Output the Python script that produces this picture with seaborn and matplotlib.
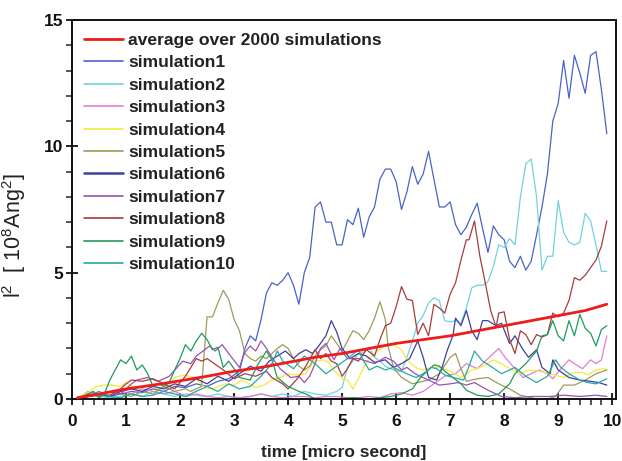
import numpy as np
import pandas as pd
import matplotlib
matplotlib.use("Agg")
import matplotlib.pyplot as plt
import seaborn as sns
from matplotlib.ticker import MultipleLocator

# ---------------- data ----------------
avg_t = [0.1, 0.5, 1, 1.5, 2, 2.5, 3, 3.5, 4, 4.5, 5, 5.5, 6, 6.5, 7, 7.5, 8, 8.5, 9, 9.5, 9.9]
avg_v = [0.05, 0.2, 0.4, 0.55, 0.72, 0.9, 1.1, 1.25, 1.45, 1.65, 1.8, 2.0, 2.2, 2.35, 2.5, 2.7, 2.9, 3.1, 3.3, 3.5, 3.75]

s1_t = [0.1, 0.3, 0.5, 0.7, 0.9, 1.1, 1.3, 1.5, 1.7, 1.9, 2.1, 2.3, 2.5, 2.7, 2.9, 3.1,
        3.2, 3.3, 3.4, 3.5, 3.6, 3.7, 3.8, 3.9, 4.0, 4.1, 4.2, 4.3, 4.4, 4.5, 4.6, 4.7, 4.8, 4.9,
        5.0, 5.1, 5.2, 5.3, 5.4, 5.5, 5.6, 5.7, 5.8, 5.9, 6.0, 6.1, 6.2, 6.3, 6.4, 6.5, 6.6, 6.7,
        6.8, 6.9, 7.0, 7.1, 7.2, 7.3, 7.4, 7.5, 7.6, 7.7, 7.8, 7.9, 8.0, 8.1, 8.2, 8.3, 8.4, 8.5,
        8.6, 8.7, 8.8, 8.9, 9.0, 9.1, 9.2, 9.3, 9.4, 9.5, 9.6, 9.7, 9.8, 9.9]
s1_v = [0.0, 0.1, 0.15, 0.1, 0.2, 0.3, 0.25, 0.4, 0.3, 0.5, 0.45, 0.6, 0.5, 0.7, 0.8, 1.1,
        2.0, 2.5, 2.3, 3.15, 4.2, 4.6, 4.5, 4.7, 5.0, 4.5, 3.75, 5.0, 5.6, 7.6, 7.8, 7.0, 7.0, 6.1,
        6.1, 7.1, 6.9, 7.55, 6.4, 7.2, 7.6, 8.7, 9.1, 9.1, 8.6, 7.5, 8.2, 9.2, 8.5, 8.9, 9.8, 8.7,
        7.6, 7.6, 7.8, 6.9, 6.5, 6.8, 7.3, 7.75, 6.75, 5.8, 6.85, 6.5, 6.3, 5.45, 5.2, 5.65, 5.1, 5.45,
        6.5, 7.6, 8.9, 11.0, 11.7, 13.4, 11.9, 13.6, 12.9, 12.1, 13.6, 13.75, 12.25, 10.5]

s2_t = [0.1, 0.3, 0.5, 0.7, 0.9, 1.1, 1.3, 1.5, 1.7, 1.9, 2.1, 2.3, 2.5, 2.7, 2.9, 3.1, 3.3, 3.5,
        3.7, 3.9, 4.1, 4.3, 4.5, 4.7, 4.9, 5.0, 5.1, 5.2, 5.3, 5.4, 5.5, 5.6, 5.7, 5.8, 5.9, 6.0,
        6.1, 6.2, 6.3, 6.4, 6.5, 6.6, 6.7, 6.8, 6.9, 7.0, 7.1, 7.2, 7.3, 7.4, 7.5, 7.6, 7.7, 7.8,
        7.9, 8.0, 8.1, 8.2, 8.3, 8.4, 8.5, 8.6, 8.7, 8.8, 8.9, 9.0, 9.1, 9.2, 9.3, 9.4, 9.5, 9.6,
        9.7, 9.8, 9.9]
s2_v = [0.0, 0.3, 0.1, 0.05, 0.1, 0.2, 0.1, 0.3, 0.2, 0.1, 0.2, 0.15, 0.1, 0.2, 0.1, 0.05, 0.1, 0.2,
        0.1, 0.2, 0.1, 0.3, 0.2, 0.15, 0.3, 0.45, 1.25, 1.5, 1.8, 1.85, 2.05, 1.65, 1.5, 1.3, 1.2, 1.1,
        1.1, 1.65, 2.3, 3.0, 3.3, 3.8, 4.0, 3.9, 3.1, 3.05, 3.1, 3.0, 3.6, 4.4, 4.5, 4.5, 4.65, 5.25,
        6.1, 6.0, 6.35, 6.1, 8.0, 9.3, 9.5, 8.0, 5.1, 5.65, 5.65, 7.85, 6.6, 6.2, 6.1, 6.2, 7.35, 7.05,
        6.1, 5.05, 5.05]

s3_t = [0.1, 0.3, 0.5, 0.7, 0.9, 1.1, 1.3, 1.5, 1.7, 1.9, 2.1, 2.3, 2.5, 2.7, 2.9, 3.1, 3.3, 3.5,
        3.7, 3.9, 4.1, 4.3, 4.5, 4.7, 4.9, 5.1, 5.3, 5.5, 5.7, 5.9, 6.1, 6.3, 6.5, 6.7, 6.9, 7.1,
        7.3, 7.5, 7.7, 7.9, 8.0, 8.2, 8.35, 8.5, 8.65, 8.8, 8.9, 9.05, 9.2, 9.3, 9.45, 9.6, 9.7,
        9.8, 9.9]
s3_v = [0.0, 0.3, 0.2, 0.1, 0.3, 0.2, 0.4, 0.3, 0.2, 0.3, 0.1, 0.2, 0.1, 0.05, 0.1, 0.05, 0.1, 0.2,
        0.1, 0.05, 0.1, 0.1, 0.05, 0.1, 0.1, 0.05, 0.05, 0.1, 0.05, 0.2, 0.25, 0.15, 0.3, 0.6, 0.9, 1.0,
        1.4, 1.2, 1.6, 2.0, 1.7, 1.2, 0.85, 1.0, 1.15, 1.0, 0.8, 1.2, 1.55, 1.4, 1.2, 1.55, 1.4,
        1.55, 2.5]

s4_t = [0.1, 0.2, 0.33, 0.46, 0.6, 0.75, 0.9, 1.0, 1.2, 1.4, 1.6, 1.8, 1.9, 2.07, 2.27, 2.46, 2.6,
        2.83, 3.0, 3.15, 3.4, 3.55, 3.7, 3.85, 4.0, 4.15, 4.33, 4.4, 4.5, 4.65, 4.75, 4.85, 5.0, 5.1,
        5.2, 5.3, 5.4, 5.5, 5.65, 5.8, 5.95, 6.1, 6.2, 6.3, 6.4, 6.5, 6.65, 6.8, 7.0, 7.2, 7.4, 7.5,
        7.65, 7.8, 7.95, 8.1, 8.3, 8.45, 8.65, 8.85, 9.1, 9.3, 9.45, 9.55, 9.7, 9.85, 9.9]
s4_v = [0.0, 0.15, 0.3, 0.5, 0.55, 0.55, 0.5, 0.65, 0.4, 0.55, 0.4, 0.55, 0.85, 0.95, 0.85, 0.45, 0.4,
        0.6, 0.55, 0.75, 0.45, 0.55, 0.75, 0.85, 1.0, 0.95, 1.0, 1.25, 1.5, 1.55, 1.45, 1.15, 0.8, 0.75,
        0.4, 0.8, 1.25, 1.6, 1.9, 2.1, 2.15, 1.95, 1.55, 1.35, 1.2, 1.15, 1.25, 1.25, 1.1, 0.85, 1.15, 1.2,
        1.35, 1.55, 1.4, 1.2, 1.0, 1.15, 1.1, 1.0, 0.85, 1.05, 1.05, 0.95, 1.15, 1.2, 1.15]

s5_t = [0.1, 0.3, 0.5, 0.7, 0.9, 1.1, 1.3, 1.5, 1.7, 1.9, 2.1, 2.2, 2.3, 2.4, 2.5, 2.6, 2.7, 2.8,
        2.9, 3.0, 3.1, 3.2, 3.3, 3.4, 3.5, 3.6, 3.7, 3.8, 3.9, 4.0, 4.1, 4.2, 4.3, 4.4, 4.5, 4.6,
        4.7, 4.8, 4.9, 5.0, 5.1, 5.2, 5.3, 5.4, 5.5, 5.6, 5.7, 5.8, 5.85, 5.95, 6.1, 6.3, 6.5, 6.6,
        6.8, 7.0, 7.1, 7.2, 7.3, 7.5, 7.7, 7.9, 8.1, 8.3, 8.6, 8.8, 8.95, 9.1, 9.3, 9.5, 9.7, 9.9]
s5_v = [0.0, 0.2, 0.1, 0.3, 0.2, 0.1, 0.3, 0.2, 0.5, 0.3, 0.4, 0.3, 0.4, 0.5, 3.25, 3.25, 3.8, 4.3,
        3.95, 3.15, 2.7, 1.8, 1.6, 1.5, 1.7, 1.6, 1.8, 2.0, 2.15, 2.0, 1.6, 1.3, 1.15, 1.3, 1.7, 1.95,
        2.1, 2.5, 2.2, 1.9, 2.3, 2.7, 2.6, 2.35, 2.7, 3.2, 3.85, 3.15, 2.1, 1.25, 0.85, 0.6, 0.7, 0.75,
        1.0, 1.65, 1.8, 1.2, 0.7, 0.8, 0.85, 0.6, 0.4, 0.15, 0.0, 0.0, 0.1, 0.55, 0.55, 0.75, 1.0, 1.15]

s6_t = [0.1, 0.3, 0.5, 0.7, 0.9, 1.1, 1.3, 1.5, 1.7, 1.9, 2.1, 2.3, 2.5, 2.7, 2.9, 3.1, 3.3, 3.5,
        3.65, 3.8, 3.95, 4.1, 4.2, 4.33, 4.45, 4.55, 4.7, 4.8, 4.9, 5.0, 5.15, 5.3, 5.45, 5.6, 5.8,
        5.95, 6.1, 6.25, 6.4, 6.5, 6.6, 6.75, 6.85, 6.95, 7.05, 7.1, 7.2, 7.3, 7.4, 7.5, 7.6, 7.7,
        7.85, 7.95, 8.1, 8.2, 8.35, 8.45, 8.6, 8.7, 8.85, 8.9, 9.0, 9.2, 9.4, 9.6, 9.75, 9.9]
s6_v = [0.0, 0.1, 0.2, 0.1, 0.3, 0.4, 0.3, 0.5, 0.4, 0.6, 0.5, 0.8, 0.6, 0.9, 0.7, 1.0, 1.3, 1.1,
        1.5, 1.7, 1.9, 1.6, 1.8, 1.95, 1.8, 2.05, 2.5, 3.1, 2.65, 2.0, 1.6, 1.8, 1.7, 1.45, 1.55,
        1.25, 1.4, 1.6, 2.3, 1.65, 0.85, 0.75, 1.25, 1.95, 2.5, 3.2, 2.9, 3.5, 2.7, 2.35, 3.1, 3.1,
        2.9, 3.0, 2.2, 2.5, 1.95, 1.65, 1.95, 1.25, 1.0, 1.55, 1.15, 0.85, 0.75, 0.7, 0.65, 0.55]

s7_t = [0.1, 0.3, 0.5, 0.7, 0.9, 1.1, 1.2, 1.4, 1.6, 1.8, 2.05, 2.2, 2.3, 2.55, 2.65, 2.78, 2.9,
        3.1, 3.2, 3.3, 3.4, 3.5, 3.6, 3.7, 3.85, 4.05, 4.2, 4.3, 4.4, 4.5, 4.6, 4.7, 4.85, 4.96,
        5.1, 5.3, 5.45, 5.6, 5.8, 5.95, 6.1, 6.2, 6.35, 6.5, 6.65, 6.8, 7.0, 7.15, 7.3, 7.45, 7.7,
        7.95, 8.2, 8.5, 8.85, 9.1, 9.4, 9.7, 9.9]
s7_v = [0.0, 0.2, 0.1, 0.3, 0.2, 0.6, 0.75, 0.85, 0.7, 0.9, 1.5, 1.4, 1.7, 2.1, 1.9, 2.15, 1.8,
        1.25, 1.85, 2.1, 1.9, 2.3, 2.0, 1.65, 1.2, 0.85, 0.9, 0.65, 0.9, 1.4, 2.0, 2.2, 1.55, 2.0,
        1.6, 1.6, 1.5, 1.4, 1.65, 1.5, 1.15, 1.25, 1.0, 0.85, 0.7, 0.55, 0.6, 0.65, 0.55, 0.65, 0.35,
        0.1, 0.05, 0.1, 0.1, 0.15, 0.1, 0.15, 0.1]

s8_t = [0.1, 0.3, 0.5, 0.7, 0.9, 1.0, 1.1, 1.3, 1.5, 1.7, 1.9, 2.1, 2.3, 2.4, 2.5, 2.7, 2.8, 3.0,
        3.2, 3.4, 3.6, 3.7, 3.9, 4.0, 4.15, 4.3, 4.5, 4.6, 4.7, 4.8, 4.9, 5.0, 5.1, 5.2, 5.3, 5.45,
        5.6, 5.7, 5.8, 5.9, 6.0, 6.1, 6.2, 6.3, 6.4, 6.5, 6.6, 6.7, 6.8, 6.9, 7.0, 7.1, 7.2, 7.3,
        7.35, 7.45, 7.55, 7.65, 7.75, 7.85, 7.9, 8.0, 8.1, 8.2, 8.3, 8.4, 8.5, 8.6, 8.7, 8.8, 8.9,
        9.0, 9.1, 9.2, 9.3, 9.4, 9.5, 9.6, 9.7, 9.8, 9.9]
s8_v = [0.0, 0.1, 0.2, 0.15, 0.4, 0.6, 0.75, 0.7, 0.8, 0.6, 0.4, 0.9, 1.6, 1.5, 1.6, 1.3, 1.15, 0.8,
        1.0, 0.9, 1.1, 0.85, 0.6, 0.4, 0.75, 1.2, 1.95, 1.6, 1.8, 1.5, 1.4, 0.9, 1.2, 1.6, 1.5, 1.95,
        1.7, 2.35, 2.9, 3.0, 3.65, 4.45, 3.95, 3.9, 2.55, 3.0, 2.5, 3.75, 3.6, 3.4, 4.15, 4.6, 5.5, 6.3,
        6.3, 7.05, 5.65, 4.6, 3.5, 2.85, 3.4, 3.45, 2.35, 1.8, 2.7, 2.55, 2.15, 2.55, 2.45, 2.55, 3.4,
        3.25, 3.4, 3.9, 4.8, 4.7, 4.9, 5.2, 5.5, 6.05, 7.05]

s9_t = [0.1, 0.3, 0.4, 0.5, 0.6, 0.7, 0.9, 1.0, 1.1, 1.2, 1.3, 1.4, 1.5, 1.6, 1.7, 1.8, 1.9, 2.0,
        2.1, 2.2, 2.3, 2.4, 2.5, 2.6, 2.7, 2.8, 2.9, 3.0, 3.1, 3.3, 3.45, 3.6, 3.7, 3.8, 4.0, 4.2,
        4.33, 4.5, 4.85, 5.2, 5.5, 5.9, 6.1, 6.3, 6.45, 6.6, 6.7, 6.8, 6.9, 7.05, 7.2, 7.3, 7.5, 7.7,
        7.9, 8.1, 8.2, 8.4, 8.6, 8.7, 8.8, 8.9, 9.0, 9.1, 9.2, 9.3, 9.4, 9.5, 9.6, 9.7, 9.8, 9.9]
s9_v = [0.0, 0.2, 0.3, 0.05, 0.2, 0.75, 1.55, 1.4, 1.7, 1.15, 1.35, 1.0, 0.5, 0.6, 0.5, 0.65, 1.15, 1.6,
        2.15, 1.9, 2.3, 2.6, 2.35, 1.95, 2.05, 1.25, 1.5, 1.2, 0.85, 0.75, 1.4, 1.9, 1.55, 0.85, 0.5, 0.3,
        0.2, 0.0, 0.0, 0.05, 0.0, 0.1, 0.2, 0.4, 0.85, 1.15, 1.35, 1.3, 1.1, 0.85, 0.6, 0.35, 0.15, 0.1,
        0.2, 0.6, 1.0, 1.4, 1.9, 2.5, 2.55, 3.1, 2.5, 2.3, 3.1, 2.5, 3.35, 2.8, 2.6, 2.1, 2.75, 2.9]

s10_t = [0.1, 0.3, 0.5, 0.7, 0.9, 1.1, 1.3, 1.5, 1.7, 1.9, 2.1, 2.3, 2.5, 2.7, 2.9, 3.1, 3.3, 3.5,
         3.7, 3.8, 3.9, 4.1, 4.3, 4.5, 4.7, 4.9, 5.1, 5.3, 5.4, 5.5, 5.65, 5.8, 5.95, 6.1, 6.25, 6.37,
         6.5, 6.65, 6.75, 6.9, 7.05, 7.25, 7.35, 7.45, 7.6, 7.75, 7.95, 8.2, 8.4, 8.6, 8.8, 8.95, 9.05,
         9.2, 9.4, 9.55, 9.7, 9.9]
s10_v = [0.0, 0.1, 0.3, 0.1, 0.05, 0.2, 0.1, 0.15, 0.3, 0.2, 0.1, 0.3, 0.5, 0.3, 0.6, 0.4, 0.5, 0.9,
         1.4, 1.9, 1.5, 1.2, 1.7, 1.4, 1.0, 1.3, 1.6, 1.95, 1.5, 1.15, 1.3, 1.15, 1.25, 1.1, 0.95, 0.85,
         1.0, 1.25, 1.2, 0.95, 0.85, 0.75, 1.3, 1.9, 1.5, 1.3, 1.0, 1.25, 0.9, 0.65, 0.9, 1.55, 1.25,
         1.0, 0.75, 0.65, 0.6, 0.8]

labels = ["average over 2000 simulations"] + [f"simulation{i}" for i in range(1, 11)]
colors = ["#ee1c1c", "#4a63c6", "#6fd3e0", "#e07fd2", "#f5ea3a", "#9c9c58",
          "#3f3f9c", "#9a52b4", "#a83c3c", "#1f9a5c", "#2aa8a2"]
series_t = [avg_t, s1_t, s2_t, s3_t, s4_t, s5_t, s6_t, s7_t, s8_t, s9_t, s10_t]
series_v = [avg_v, s1_v, s2_v, s3_v, s4_v, s5_v, s6_v, s7_v, s8_v, s9_v, s10_v]

# ---------------- plotting ----------------
sns.set_style("ticks")
plt.rcParams["font.family"] = ["Liberation Sans", "DejaVu Sans"]
plt.rcParams["mathtext.fontset"] = "custom"
plt.rcParams["mathtext.rm"] = "Liberation Sans"
plt.rcParams["mathtext.it"] = "Liberation Sans"
plt.rcParams["mathtext.bf"] = "Liberation Sans:bold"

fig = plt.figure(figsize=(6.22, 4.61), dpi=100)
ax = fig.add_axes([72 / 622, 62 / 461, (616 - 72) / 622, (400 - 21) / 461])

frames = []
for lab, tt, vv in zip(labels, series_t, series_v):
    frames.append(pd.DataFrame({"t": tt, "v": vv, "series": lab}))
df = pd.concat(frames, ignore_index=True)

for i, (lab, col) in enumerate(zip(labels, colors)):
    sub = df[df["series"] == lab]
    lw = 2.0 if i == 0 else 0.9
    z = 5 if i == 0 else 2
    sns.lineplot(data=sub, x="t", y="v", ax=ax, color=col, lw=lw,
                 estimator=None, sort=False, label=lab, zorder=z)

ax.set_xlim(0, 10.07)
ax.set_ylim(0, 15)
ax.xaxis.set_major_locator(MultipleLocator(1))
ax.xaxis.set_minor_locator(MultipleLocator(0.2))
ax.yaxis.set_major_locator(MultipleLocator(5))
ax.yaxis.set_minor_locator(MultipleLocator(1))
ax.tick_params(axis="both", which="major", direction="inout", length=9, width=1.3,
               labelsize=12.5, colors="#111111")
ax.tick_params(axis="x", which="major", pad=6)
ax.tick_params(axis="y", which="major", pad=2)
ax.tick_params(axis="both", which="minor", direction="out", length=4, width=1.1)
for lbl in ax.get_xticklabels() + ax.get_yticklabels():
    lbl.set_fontweight("bold")
for sp in ax.spines.values():
    sp.set_linewidth(1.4)
    sp.set_color("#111111")

ax.set_xlabel("time [micro second]", fontsize=12.5, fontweight="bold", labelpad=12)
ax.set_ylabel(r"$\mathregular{l^2\ \ [\ 10^8Ang^2]}$", fontsize=15.5, color="#222222")
ax.yaxis.set_label_coords(-0.08, 0.43)

leg = ax.legend(loc="upper left", frameon=False, fontsize=12.6, handlelength=2.2,
                handletextpad=0.3, labelspacing=0.41, borderaxespad=0.0,
                bbox_to_anchor=(0.01, 0.985))
for txt in leg.get_texts():
    txt.set_fontweight("bold")
    txt.set_color("#222222")
for h in leg.get_lines():
    h.set_linewidth(1.2)
leg.get_lines()[0].set_linewidth(2.0)
leg.get_lines()[6].set_linewidth(1.8)

fig.savefig("out.png", dpi=100)
